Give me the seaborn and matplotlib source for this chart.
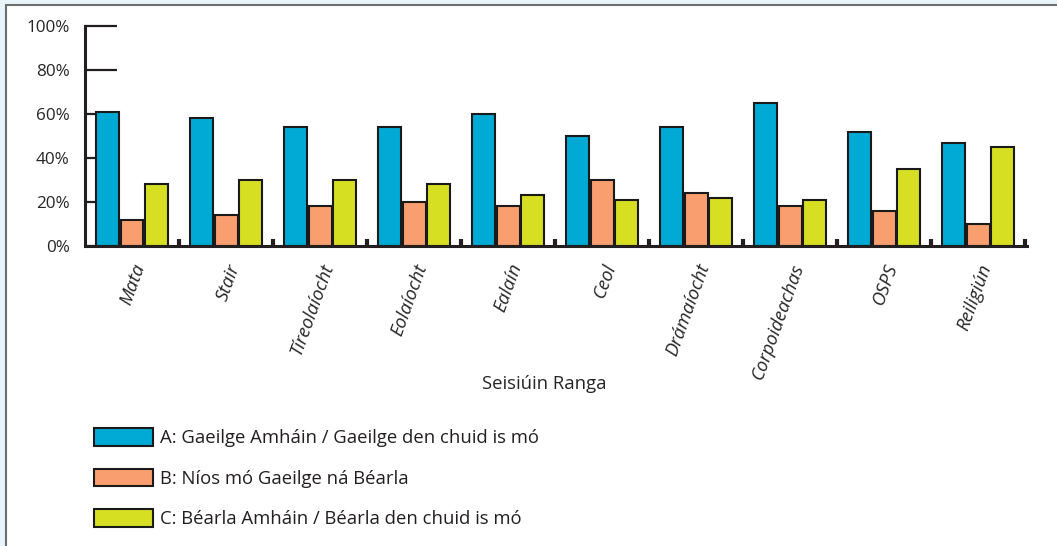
import pandas as pd
import seaborn as sns
import matplotlib.pyplot as plt
from matplotlib.patches import Rectangle
from matplotlib.ticker import FixedLocator, FuncFormatter

subjects = ["Mata", "Stair", "Tíreolaíocht", "Eolaíocht", "Ealaín", "Ceol",
            "Drámaíocht", "Corpoideachas", "OSPS", "Reiligiún"]
series_names = ["A: Gaeilge Amháin / Gaeilge den chuid is mó",
                "B: Níos mó Gaeilge ná Béarla",
                "C: Béarla Amháin / Béarla den chuid is mó"]
vals_a = [61, 58, 54, 54, 60, 50, 54, 65, 52, 47]
vals_b = [12, 14, 18, 20, 18, 30, 24, 18, 16, 10]
vals_c = [28, 30, 30, 28, 23, 21, 22, 21, 35, 45]
colors = ["#00aad4", "#f99e6e", "#d7df22"]
yticks = [0, 20, 40, 60, 80, 100]

rows = []
for name, vals in zip(series_names, [vals_a, vals_b, vals_c]):
    for s, v in zip(subjects, vals):
        rows.append({"subject": s, "group": name, "value": v})
df = pd.DataFrame(rows)

sns.set_style("white")
plt.rcParams['font.family'] = ['Open Sans', 'DejaVu Sans']
plt.rcParams['text.color'] = '#231f20'
fs = 13.3

fig = plt.figure(figsize=(10.57, 5.46), dpi=100, facecolor='#e8f4fa')
# white panel with grey frame line
fig.patches.append(Rectangle((5.5 / 1057, -0.1), 1.2, 1.1 - 4.5 / 546,
                             transform=fig.transFigure, facecolor='white',
                             edgecolor='#6d6e71', linewidth=1.5, zorder=-10))

ax = fig.add_axes([85 / 1057, 1 - 246 / 546, 942 / 1057, 220 / 546])
ax.set_facecolor('none')
sns.barplot(data=df, x='subject', y='value', hue='group', palette=colors,
            saturation=1, width=0.78, gap=0.06, edgecolor='#1a1a1a',
            linewidth=1.5, ax=ax, legend=True)

ax.set_ylim(0, 100)
ax.set_xlim(-0.5, 9.52)
ax.set_axisbelow(True)
for side in ['top', 'right']:
    ax.spines[side].set_visible(False)
ax.spines['left'].set_linewidth(2.2)
ax.spines['bottom'].set_linewidth(2.2)
ax.spines['left'].set_color('#231f20')
ax.spines['bottom'].set_color('#231f20')

ax.set_yticks(yticks)
ax.yaxis.set_major_formatter(FuncFormatter(lambda v, p: f"{int(v)}%"))
ax.tick_params(axis='y', direction='in', length=23, width=1.6, color='#231f20',
               labelsize=12.3, pad=11, left=True)

ax.set_xticks(range(len(subjects)))
ax.set_xticklabels(subjects, rotation=70, ha='right', rotation_mode='anchor',
                   fontstyle='italic', fontsize=fs)
ax.tick_params(axis='x', which='major', length=0, pad=11)
ax.xaxis.set_minor_locator(FixedLocator([i + 0.5 for i in range(len(subjects))]))
ax.tick_params(axis='x', which='minor', direction='in', length=5, width=3,
               color='#231f20', bottom=True)

ax.set_xlabel("Seisiúin Ranga", fontsize=fs)
ax.xaxis.set_label_coords(0.487, -0.585)
ax.set_ylabel("")

handles, labels = ax.get_legend_handles_labels()
ax.legend(handles, labels, loc='upper left', frameon=False,
          bbox_to_anchor=(94 / 1057, 1 - 428 / 546),
          bbox_transform=fig.transFigure, fontsize=fs,
          handlelength=3.2, handleheight=1.12, labelspacing=1.15,
          handletextpad=0.37, borderpad=0, borderaxespad=0)

fig.savefig("out.png", dpi=100, facecolor=fig.get_facecolor())
